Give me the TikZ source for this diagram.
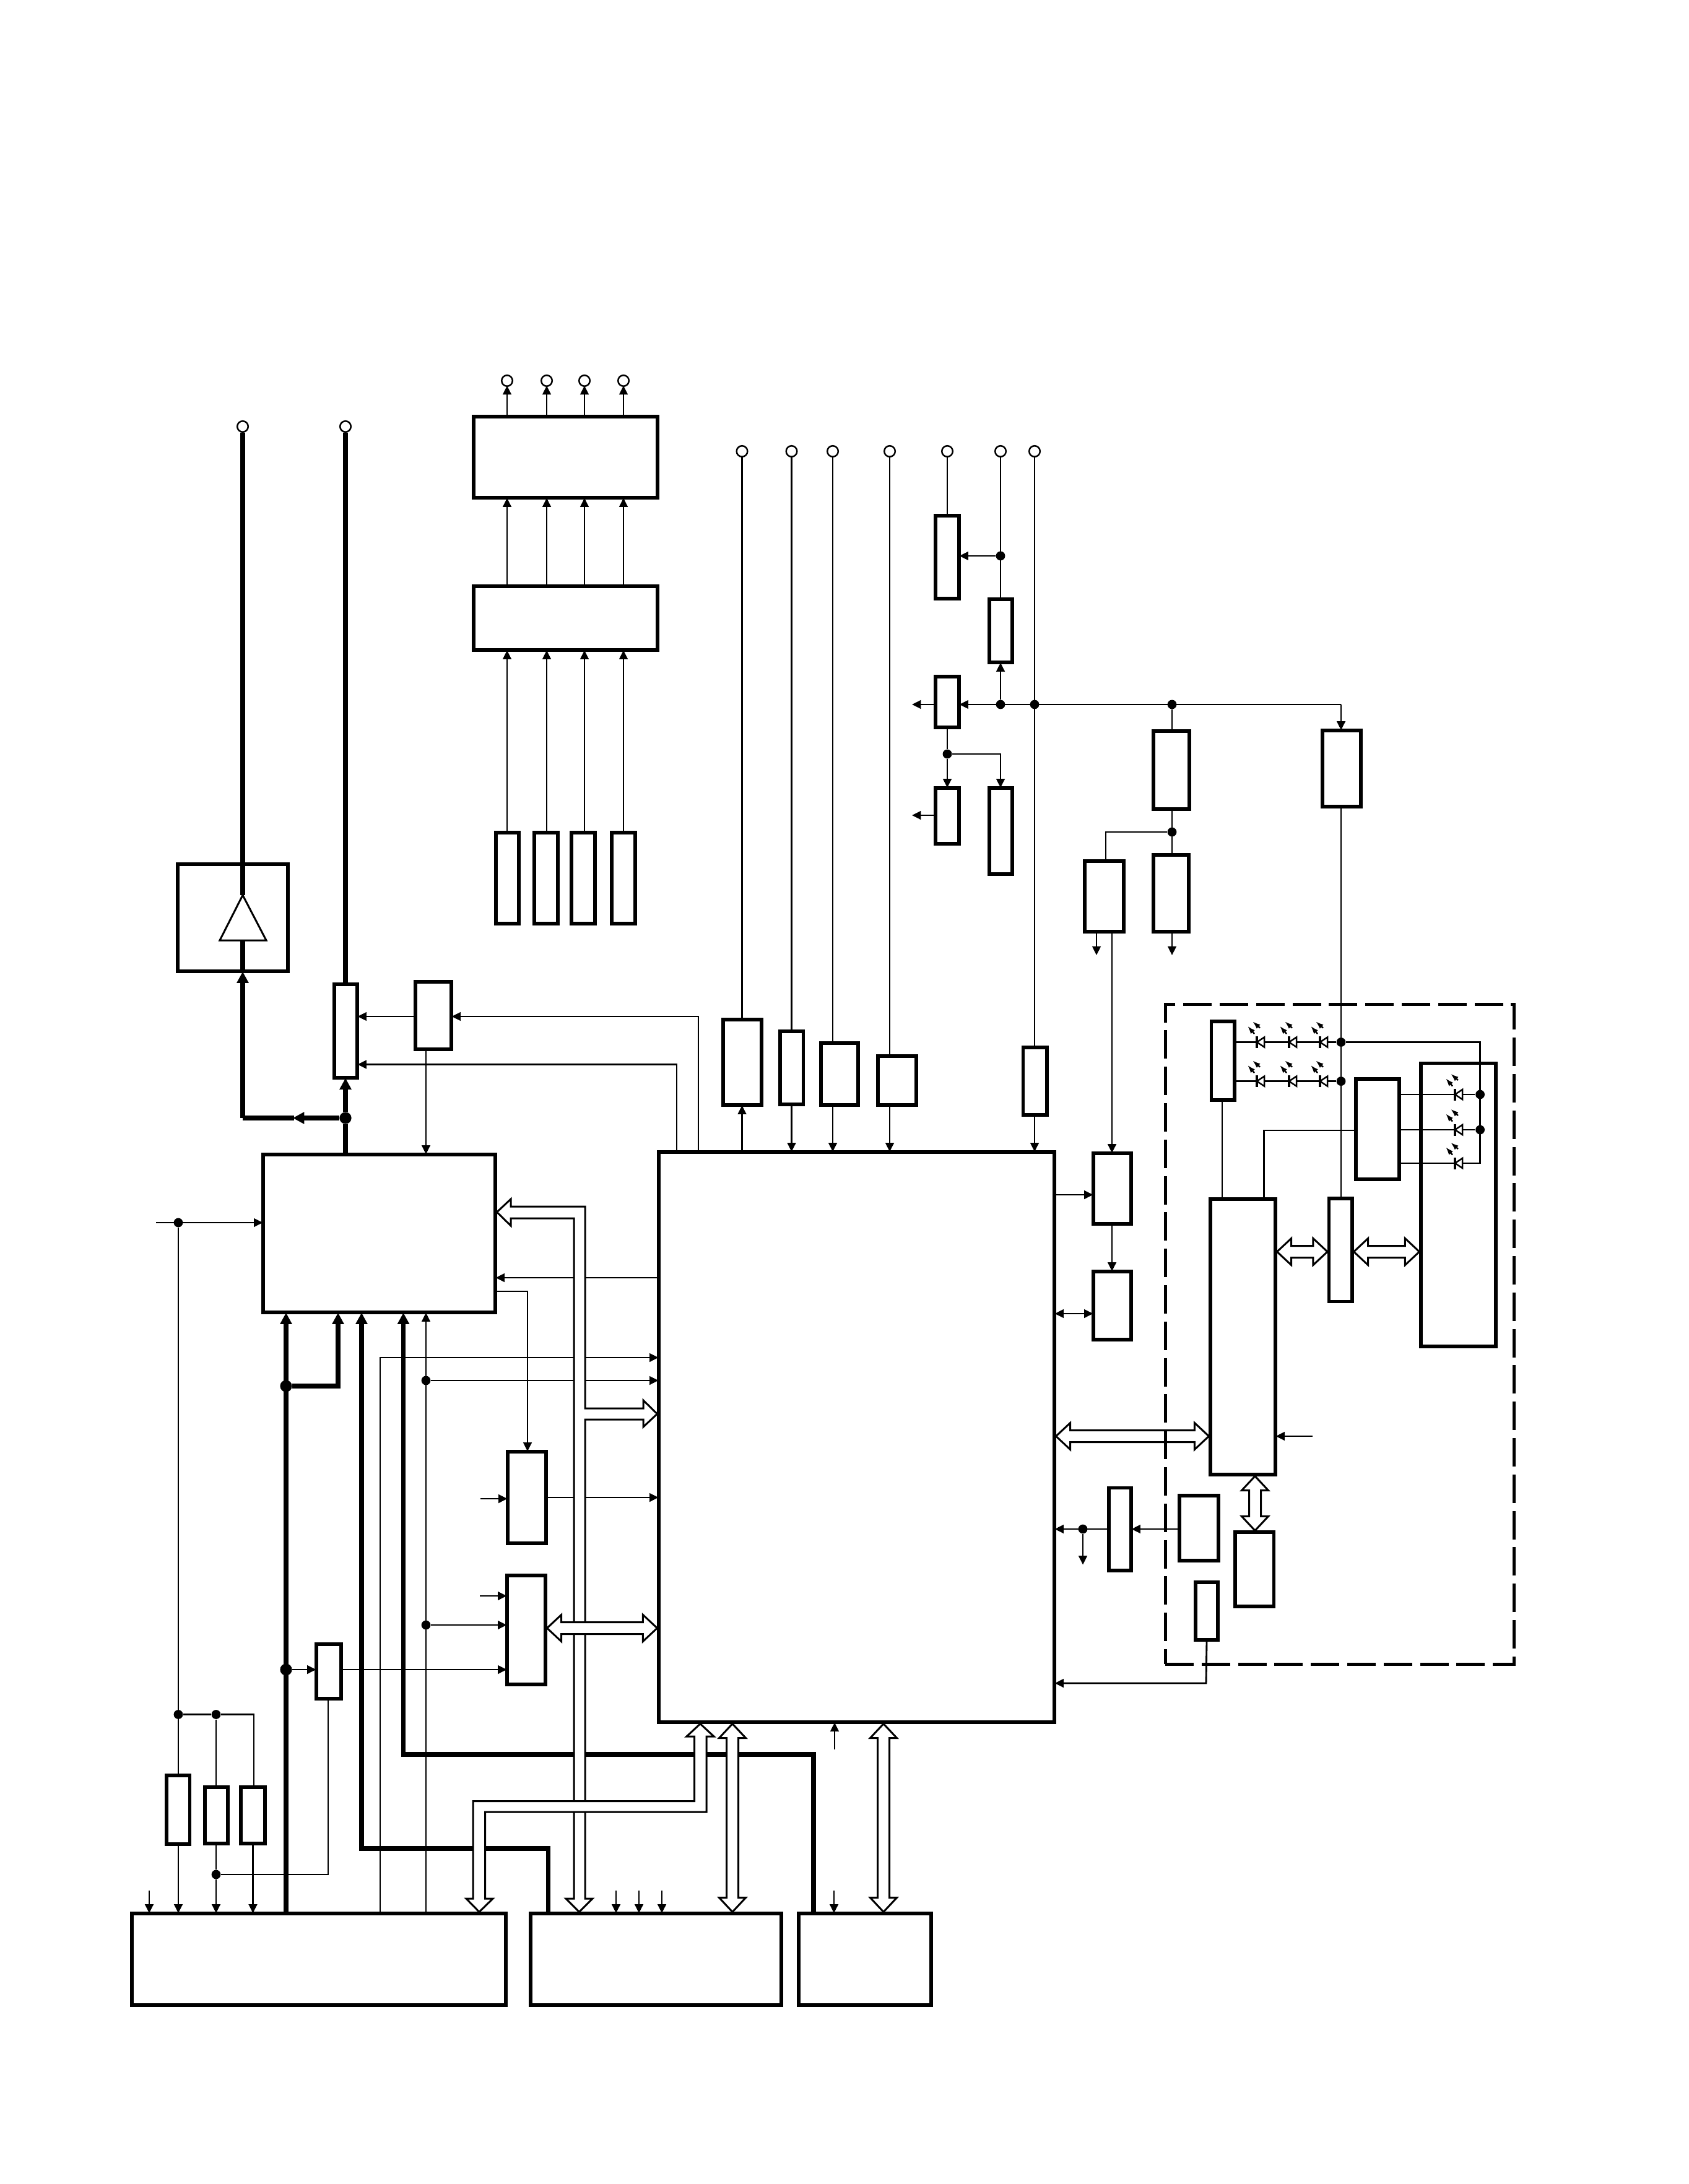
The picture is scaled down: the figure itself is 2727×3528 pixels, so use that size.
\documentclass[tikz,border=0pt]{standalone}
\usetikzlibrary{arrows.meta,calc}

% Unit blocks are given by their corners, in drawing units (y runs downward).
\newcommand\unitblock[5]{\node[blk,minimum width={(#4-#2)*0.25pt},minimum height={(#5-#3)*0.25pt}] (#1) at ({(#2+#4)/2},{(#3+#5)/2}) {};}

% Dimensions of the hollow bus arrows.
\newcommand\busHL{5.75pt}
\newcommand\busHW{5.375pt}
\newcommand\busBW{2.375pt}

% Hollow double-headed bus, horizontal: left end, right end.
\newcommand\hbus[2]{\draw[hollow] let \p1=(#1),\p2=(#2) in (\p1) -- ++(\busHL,\busHW) -- ++(0,-\busHW+\busBW) -- (\x2-\busHL,\y1+\busBW) -- ++(0,\busHW-\busBW) -- (\p2) -- ++(-\busHL,-\busHW) -- ++(0,\busHW-\busBW) -- (\x1+\busHL,\y1-\busBW) -- ++(0,-\busHW+\busBW) -- cycle;}

% Hollow double-headed bus, vertical: upper end, lower end.
\newcommand\vbus[2]{\draw[hollow] let \p1=(#1),\p2=(#2) in (\p1) -- ++(\busHW,-\busHL) -- ++(-\busHW+\busBW,0) -- (\x1+\busBW,\y2+\busHL) -- ++(\busHW-\busBW,0) -- (\x1,\y2) -- ++(-\busHW,\busHL) -- ++(\busHW-\busBW,0) -- (\x1-\busBW,\y1-\busHL) -- ++(-\busHW+\busBW,0) -- cycle;}

% Light-emitting diode on a horizontal line; the bar sits at the given point.
\newcommand\ledmark[2]{\begin{scope}[shift={(#1,#2)}]
  \draw[line width=.62pt,fill=white] (0,0) -- (12,-8) -- (12,8) -- cycle;
  \draw[line width=1pt] (0,-9.5) -- (0,9.5);
  \draw[ray] (-4,-13.5) -- (-15,-26);
  \draw[ray] (5,-23) -- (-7,-33.5);
\end{scope}}

\tikzset{
  blk/.style={rectangle,draw,line width=1.28pt,inner sep=0pt},
  dot/.style={circle,fill=black,inner sep=0pt,minimum size=3.7pt},
  bigdot/.style={circle,fill=black,inner sep=0pt,minimum size=4.8pt},
  term/.style={circle,draw,fill=white,line width=.62pt,inner sep=0pt,minimum size=4.4pt},
  sig/.style={line width=.72pt},
  sigarr/.style={sig,shorten >=-.5pt,-{Triangle[length=3.6pt,width=3.4pt]}},
  sigboth/.style={sig,shorten >=-.5pt,shorten <=-.5pt,{Triangle[length=3.6pt,width=3.4pt]}-{Triangle[length=3.6pt,width=3.4pt]}},
  pow/.style={line width=1.9pt},
  powarr/.style={pow,shorten >=-.5pt,-{Triangle[length=4.6pt,width=4.6pt]}},
  hollow/.style={draw,fill=white,line width=.75pt},
  ray/.style={line width=.6pt,-{Latex[length=3.2pt,width=2.2pt]}},
  zonebox/.style={rectangle,draw,line width=1.25pt,inner sep=0pt,dash pattern=on 11.5pt off 3.2pt}
}

\begin{document}
\begin{tikzpicture}[x=0.25pt,y=-0.25pt]
\useasboundingbox (0,0) rectangle (2727,3528);
\fill[white] (0,0) rectangle (2727,3528);

% Output stages and their four channels
\unitblock{drvA}{765}{673}{1062}{804}
\unitblock{drvB}{765}{947}{1062}{1050}
\unitblock{chA}{801}{1345}{838}{1492}
\unitblock{chB}{863}{1345}{901}{1492}
\unitblock{chC}{923}{1345}{961}{1492}
\unitblock{chD}{988}{1345}{1026}{1492}

% Amplifier and left-hand switching
\unitblock{ampBox}{287}{1396}{465}{1569}
\unitblock{sw}{540}{1590}{577}{1741}
\unitblock{ctl}{671}{1586}{729}{1695}
\unitblock{lbox}{425}{1865}{800}{2120}

% Central processor and the blocks on its upper edge
\unitblock{main}{1064}{1861}{1703}{2782}
\unitblock{bA}{1168}{1647}{1230}{1785}
\unitblock{bB}{1260}{1666}{1297.5}{1784}
\unitblock{bC}{1326}{1685}{1386}{1785}
\unitblock{bD}{1418}{1706}{1480}{1785}
\unitblock{bE}{1652.5}{1692}{1691}{1801}

% Supply chain, upper right
\unitblock{pA}{1511}{833}{1549}{967}
\unitblock{qA}{1598}{968}{1635}{1070}
\unitblock{sA}{1511}{1093}{1549}{1175}
\unitblock{vA}{1511}{1273}{1549}{1363}
\unitblock{wA}{1598}{1273}{1635}{1412}
\unitblock{feedA}{1863}{1181}{1921}{1307}
\unitblock{uA}{2136}{1180}{2198}{1303}
\unitblock{xA}{1752}{1391}{1815}{1505}
\unitblock{yA}{1863}{1381}{1920}{1505}
\unitblock{rA}{1766}{1863}{1827}{1977}
\unitblock{rB}{1766}{2054}{1827}{2164}

% Panel group
\unitblock{ledA}{1956.5}{1650}{1994}{1777}
\unitblock{mid}{2190}{1743}{2260}{1905}
\unitblock{bigR}{2295}{1717.5}{2416}{2175}
\unitblock{ctlB}{1955}{1937}{2060}{2382}
\unitblock{hub}{2146.5}{1936}{2184}{2102.5}
\unitblock{lowA}{1791}{2403.5}{1827}{2537}
\unitblock{lowB}{1905}{2416}{1968}{2521}
\unitblock{lowC}{1995}{2475}{2057.6}{2595}
\unitblock{lowD}{1931}{2556}{1967}{2649}

% Converters left of the processor
\unitblock{conA}{820}{2345}{882}{2493}
\unitblock{conB}{819}{2545}{881}{2721}
\unitblock{small}{511}{2656}{551}{2744}

% Lower row
\unitblock{resA}{269}{2868}{306.5}{2979}
\unitblock{resB}{331}{2887}{368}{2978}
\unitblock{resC}{389}{2887}{428}{2978}
\unitblock{lowL}{213}{3091}{817}{3239}
\unitblock{lowM}{857}{3091}{1262}{3239}
\unitblock{lowR}{1290}{3091}{1504}{3239}

% Terminals
\node[term] (tTopA) at (819,615) {};
\node[term] (tTopB) at (883,615) {};
\node[term] (tTopC) at (944,615) {};
\node[term] (tTopD) at (1007,615) {};
\node[term] (tL) at (392,689) {};
\node[term] (tR) at (558,689) {};
\node[term] (tA) at (1198.5,729) {};
\node[term] (tB) at (1278.5,729) {};
\node[term] (tC) at (1345,729) {};
\node[term] (tD) at (1437,729) {};
\node[term] (tE) at (1530,729) {};
\node[term] (tF) at (1616,729) {};
\node[term] (tG) at (1671,729) {};

% Junctions
\node[bigdot] (jA) at (558,1806) {};
\node[bigdot] (jB) at (462,2239) {};
\node[bigdot] (jC) at (462,2697) {};
\node[dot] (jD) at (688,2230) {};
\node[dot] (jE) at (688,2625) {};
\node[dot] (jIn) at (288,1975) {};
\node[dot] (jRa) at (288,2769.5) {};
\node[dot] (jRb) at (349,2769.5) {};
\node[dot] (jRc) at (349,3028) {};
\node[dot] (jF) at (1616,898) {};
\node[dot] (jG) at (1616,1138) {};
\node[dot] (jH) at (1671,1138) {};
\node[dot] (jI) at (1893,1138) {};
\node[dot] (jJ) at (1530,1218) {};
\node[dot] (jK) at (1893,1344) {};
\node[dot] (jP) at (2166,1683.5) {};
\node[dot] (jQ) at (2166,1746.6) {};
\node[dot] (jS) at (2390.6,1768) {};
\node[dot] (jT) at (2390.6,1825) {};
\node[dot] (jL) at (1749,2470) {};

% Free ends and corners
\coordinate (cCtl) at (1128,1642);
\coordinate (cSw) at (1093,1719.5);
\coordinate (cCorner) at (392,1806);
\coordinate (cFlow) at (475,1806);
\coordinate (cBr) at (546,2239);
\coordinate (cMa) at (885.5,2986);
\coordinate (cMb) at (584,2986);
\coordinate (cRa) at (1314,2834);
\coordinate (cRb) at (651.5,2834);
\coordinate (cS) at (614,2193);
\coordinate (cLA) at (852,2086);
\coordinate (cBack) at (900,2064);
\coordinate (cIn) at (252,1975);
\coordinate (cRc) at (410,2769.5);
\coordinate (cRd) at (408.5,2979);
\coordinate (cRe) at (530,3028);
\coordinate (cNa) at (241,3054);
\coordinate (cNb) at (995,3054);
\coordinate (cNc) at (1032,3054);
\coordinate (cNd) at (1069,3054);
\coordinate (cNe) at (1347,3054);
\coordinate (cUp) at (1348,2826);
\coordinate (cBi) at (775,2578);
\coordinate (cAi) at (776,2421);
\coordinate (cU) at (2166,1138);
\coordinate (cSo) at (1475,1138);
\coordinate (cVo) at (1475,1317);
\coordinate (cW) at (1616,1218);
\coordinate (cX) at (1786,1344);
\coordinate (cXa) at (1771,1541);
\coordinate (cYa) at (1893,1541);
\coordinate (cXb) at (1796,1505);
\coordinate (cM1) at (1740,1930);
\coordinate (cM2) at (1740,2122);
\coordinate (cLedA) at (2000,1683.5);
\coordinate (cLedB) at (2000,1746.6);
\coordinate (cLoop) at (2390.6,1683.5);
\coordinate (cLoopB) at (2390.6,1879);
\coordinate (cMidW) at (2041.5,1826);
\coordinate (cLedS) at (1974,1800);
\coordinate (cBIn) at (2120,2320);
\coordinate (cDn) at (1749,2525.6);
\coordinate (cLowD) at (1948,2719);
\coordinate (apex) at (392,1446);
\coordinate (baseL) at (355,1519);
\coordinate (baseR) at (430,1519);
\coordinate (baseM) at (392,1519);

% Channel lines to the output terminals
\foreach \tn/\ch in {tTopA/chA,tTopB/chB,tTopC/chC,tTopD/chD}{
  \draw[sigarr] (\tn |- drvA.north) -- (\tn);
  \draw[sigarr] (\tn |- drvB.north) -- (\tn |- drvA.south);
  \draw[sigarr] (\tn |- \ch.north) -- (\tn |- drvB.south);
}

% Amplifier triangle and high-current paths
\draw[line width=.75pt] (apex) -- (baseL) -- (baseR) -- cycle;
\draw[pow] (tL) -- (apex);
\draw[pow] (cCorner |- ampBox.south) -- (baseM);
\draw[powarr] (jA) -- (cFlow);
\draw[pow] (cFlow) -- (cCorner);
\draw[powarr] (cCorner) -- (cCorner |- ampBox.south);
\draw[pow] (tR) -- (tR |- sw.north);
\draw[powarr] (jA) -- (jA |- sw.south);
\draw[pow] (jA |- lbox.north) -- (jA);
\draw[powarr] (jC |- lowL.north) -- (jC |- lbox.south);
\draw[powarr] (jB) -- (cBr) -- (cBr |- lbox.south);
\draw[powarr] (cMa |- lowM.north) -- (cMa) -- (cMb) -- (cMb |- lbox.south);
\draw[powarr] (cRa |- lowR.north) -- (cRa) -- (cRb) -- (cRb |- lbox.south);

% Control around the switching blocks
\draw[sigarr] (main.north -| cCtl) -- (cCtl) -- (cCtl -| ctl.east);
\draw[sigarr] (cCtl -| ctl.west) -- (cCtl -| sw.east);
\draw[sigarr] (main.north -| cSw) -- (cSw) -- (cSw -| sw.east);
\draw[sigarr] (jD |- ctl.south) -- (jD |- lbox.north);
\draw[sigarr] (jD |- lowL.north) -- (jD |- lbox.south);
\draw[sigarr] (jD) -- (jD -| main.west);
\draw[sigarr] (jE) -- (jE -| conB.west);
\draw[sigarr] (cS |- lowL.north) -- (cS) -- (cS -| main.west);
\draw[sigarr] (cLA -| lbox.east) -- (cLA) -- (cLA |- conA.north);
\draw[sigarr] (cBack -| main.west) -- (cBack -| lbox.east);
\draw[sigarr] (cIn) -- (cIn -| lbox.west);

% Supply resistors, lower left
\draw[sig] (jIn) -- (jRa |- resA.north);
\draw[sigarr] (jRa |- resA.south) -- (jRa |- lowL.north);
\draw[sig] (jRa) -- (jRb) -- (cRc) -- (cRc |- resC.north);
\draw[sig] (jRb) -- (jRb |- resB.north);
\draw[sig] (jRb |- resB.south) -- (jRc);
\draw[sigarr] (jRc) -- (jRc |- lowL.north);
\draw[sigarr] (cRd) -- (cRd |- lowL.north);
\draw[sig] (jRc) -- (cRe) -- (cRe |- small.south);
\draw[sigarr] (cNa) -- (cNa |- lowL.north);
\draw[sigarr] (cNb) -- (cNb |- lowM.north);
\draw[sigarr] (cNc) -- (cNc |- lowM.north);
\draw[sigarr] (cNd) -- (cNd |- lowM.north);
\draw[sigarr] (cNe) -- (cNe |- lowR.north);
\draw[sigarr] (cUp) -- (cUp |- main.south);

% Converters
\draw[sigarr] (jC) -- (jC -| small.west);
\draw[sigarr] (jC -| small.east) -- (jC -| conB.west);
\draw[sigarr] (cBi) -- (cBi -| conB.west);
\draw[sigarr] (cAi) -- (cAi -| conA.west);
\draw[sigarr] (conA.east) -- (conA.east -| main.west);

% Lines between the upper terminals and the processor
\draw[sig] (tA) -- (tA |- bA.north);
\draw[sigarr] (tA |- main.north) -- (tA |- bA.south);
\draw[sig] (tB) -- (tB |- bB.north);
\draw[sigarr] (tB |- bB.south) -- (tB |- main.north);
\draw[sig] (tC) -- (tC |- bC.north);
\draw[sigarr] (tC |- bC.south) -- (tC |- main.north);
\draw[sig] (tD) -- (tD |- bD.north);
\draw[sigarr] (tD |- bD.south) -- (tD |- main.north);
\draw[sig] (tG) -- (tG |- bE.north);
\draw[sigarr] (tG |- bE.south) -- (tG |- main.north);

% Supply distribution
\draw[sig] (tE) -- (tE |- pA.north);
\draw[sig] (tF) -- (tF |- qA.north);
\draw[sigarr] (jF) -- (jF -| pA.east);
\draw[sigarr] (jG) -- (jG |- qA.south);
\draw[sigarr] (cU) -- (jG -| sA.east);
\draw[sigarr] (cU) -- (cU |- uA.north);
\draw[sigarr] (cSo -| sA.west) -- (cSo);
\draw[sig] (jJ |- sA.south) -- (jJ);
\draw[sigarr] (jJ) -- (jJ |- vA.north);
\draw[sigarr] (jJ) -- (cW) -- (cW |- wA.north);
\draw[sigarr] (cVo -| vA.west) -- (cVo);
\draw[sig] (jI) -- (jI |- feedA.north);
\draw[sig] (jK |- feedA.south) -- (jK |- yA.north);
\draw[sig] (jK) -- (cX) -- (cX |- xA.north);
\draw[sigarr] (cXa |- xA.south) -- (cXa);
\draw[sigarr] (cYa |- yA.south) -- (cYa);
\draw[sigarr] (cXb) -- (cXb |- rA.north);
\draw[sigarr] (cXb |- rA.south) -- (cXb |- rB.north);
\draw[sigarr] (cM1 -| main.east) -- (cM1 -| rA.west);
\draw[sigboth] (cM2 -| main.east) -- (cM2 -| rB.west);

% Panel group wiring
\draw[sig] (cU |- uA.south) -- (cU |- hub.north);
\draw[sig] (cLedA -| ledA.east) -- (jP);
\draw[sig] (cLedB -| ledA.east) -- (jQ);
\draw[sig] (jP) -- (cLoop) -- (cLoopB) -- (cLoopB -| mid.east);
\draw[sig] (jS -| mid.east) -- (jS);
\draw[sig] (jT -| mid.east) -- (jT);
\draw[sig] (cMidW -| mid.west) -- (cMidW) -- (cMidW |- ctlB.north);
\draw[sig] (cLedS |- ledA.south) -- (cLedS |- ctlB.north);
\foreach \lx in {2030,2082,2132}{
  \ledmark{\lx}{1683.5}
  \ledmark{\lx}{1746.6}
}
\foreach \ly in {1768,1825,1879}{
  \ledmark{2350}{\ly}
}
\draw[sigarr] (cBIn) -- (cBIn -| ctlB.east);
\draw[sigarr] (lowB.west |- jL) -- (jL -| lowA.east);
\draw[sigarr] (jL -| lowA.west) -- (jL -| main.east);
\draw[sigarr] (jL) -- (cDn);
\draw[sigarr] (lowD.south) -- (cLowD) -- (cLowD -| main.east);

% Hollow buses
\draw[hollow] (lbox.east |- 0,1958) -- (825,1937) -- (825,1949) -- (945,1949) -- (945,2275) -- (1039,2275) -- (1039,2262) -- (main.west |- 0,2284) -- (1039,2305) -- (1039,2293) -- (945,2293) -- (945,3067) -- (957,3067) -- (935.5,0 |- lowM.north) -- (914,3067) -- (927,3067) -- (927,1968) -- (825,1968) -- (825,1980) -- cycle;
\draw[hollow] (1131,0 |- main.south) -- (1153,2805) -- (1141,2805) -- (1141,2927) -- (783.5,2927) -- (783.5,3067) -- (796,3067) -- (774,0 |- lowL.north) -- (753,3067) -- (764,3067) -- (764,2909.5) -- (1121.5,2909.5) -- (1121.5,2805) -- (1109,2805) -- cycle;

\coordinate (busA) at (1183,2900);
\coordinate (busB) at (1427,2900);
\coordinate (busC) at (950,2630);
\coordinate (busD) at (2100,2022);
\coordinate (busE) at (1800,2320);
\coordinate (busF) at (2027,2430);
\vbus{busA |- main.south}{busA |- lowM.north}
\vbus{busB |- main.south}{busB |- lowR.north}
\hbus{busC -| conB.east}{busC -| main.west}
\hbus{busD -| ctlB.east}{busD -| hub.west}
\hbus{busD -| hub.east}{busD -| bigR.west}
\hbus{busE -| main.east}{busE -| ctlB.west}
\vbus{busF |- ctlB.south}{busF |- lowC.north}

% Boundary of the panel group
\node[zonebox,minimum width=140.75pt,minimum height=266.5pt] (zone) at (2163.5,2155) {};
\end{tikzpicture}
\end{document}
